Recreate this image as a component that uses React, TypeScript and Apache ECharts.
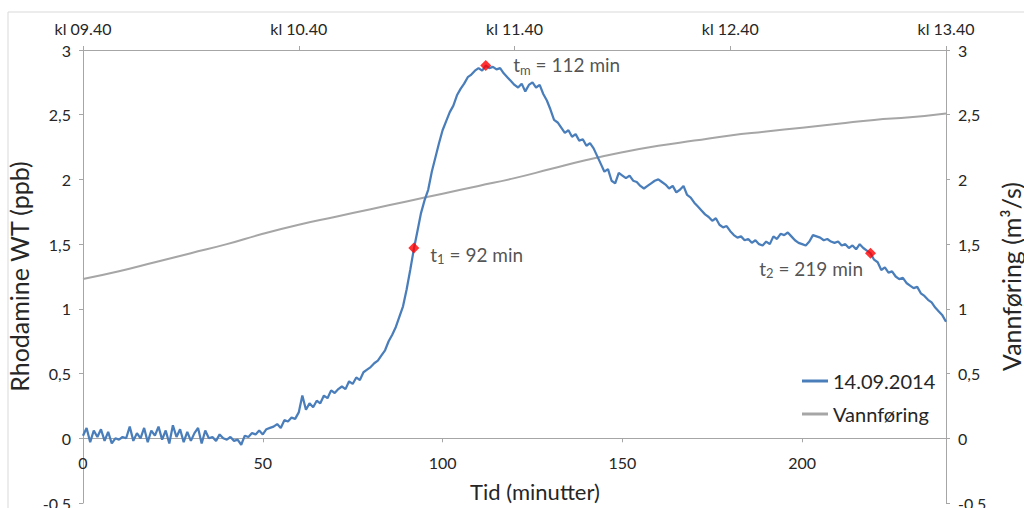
import React, { useEffect, useRef } from "react";
import * as echarts from "echarts";

// Rhodamine WT (ppb), one reading per minute from 0 to 240 min
const rhodamine: number[] = [
  0.02, 0.08, -0.03, 0.06, 0.01, 0.07, -0.02, 0.05, -0.04, 0.0,
  -0.01, 0.01, 0.0, 0.09, -0.02, 0.04, 0.0, 0.08, -0.03, 0.06,
  0.02, 0.09, -0.01, 0.06, -0.04, 0.1, 0.01, 0.07, -0.03, 0.05,
  -0.02, 0.04, 0.08, -0.04, 0.06, 0.0, 0.01, -0.02, 0.03, 0.0,
  -0.01, 0.01, -0.02, -0.01, -0.05, 0.02, 0.01, 0.04, 0.03, 0.06,
  0.03, 0.07, 0.08, 0.09, 0.11, 0.08, 0.14, 0.13, 0.16, 0.15,
  0.2, 0.33, 0.22, 0.27, 0.24, 0.29, 0.27, 0.33, 0.31, 0.37,
  0.35, 0.38, 0.4, 0.38, 0.44, 0.42, 0.47, 0.45, 0.51, 0.53,
  0.55, 0.58, 0.6, 0.64, 0.68, 0.75, 0.8, 0.86, 0.94, 1.02,
  1.15, 1.3, 1.46, 1.6, 1.74, 1.84, 1.92, 2.06, 2.17, 2.28,
  2.38, 2.45, 2.52, 2.57, 2.65, 2.7, 2.74, 2.79, 2.81, 2.84,
  2.86, 2.84, 2.88, 2.86, 2.87, 2.85, 2.86, 2.82, 2.79, 2.76,
  2.73, 2.71, 2.74, 2.68, 2.73, 2.75, 2.71, 2.73, 2.66, 2.61,
  2.54, 2.46, 2.44, 2.4, 2.36, 2.38, 2.33, 2.35, 2.3, 2.31,
  2.26, 2.28, 2.24, 2.18, 2.12, 2.06, 2.08, 1.99, 1.97, 2.05,
  2.03, 2.01, 2.03, 1.99, 1.98, 1.95, 1.93, 1.95, 1.97, 1.99,
  2.0, 1.98, 1.96, 1.93, 1.95, 1.9, 1.92, 1.95, 1.88, 1.86,
  1.82, 1.79, 1.76, 1.73, 1.71, 1.68, 1.7, 1.65, 1.63, 1.64,
  1.6, 1.57, 1.55, 1.56, 1.53, 1.54, 1.51, 1.53, 1.5, 1.49,
  1.52, 1.5, 1.56, 1.54, 1.58, 1.57, 1.59, 1.56, 1.53, 1.51,
  1.5, 1.49, 1.52, 1.57, 1.56, 1.55, 1.53, 1.54, 1.52, 1.51,
  1.52, 1.49, 1.5, 1.47, 1.49, 1.46, 1.5, 1.47, 1.45, 1.43,
  1.38, 1.36, 1.3, 1.32, 1.28, 1.29, 1.25, 1.23, 1.24, 1.2,
  1.18, 1.16, 1.17, 1.12, 1.1, 1.07, 1.05, 1.01, 0.98, 0.95,
  0.9,
];

// Vannføring (m³/s)
const flowTimes: number[] = [0, 10, 20, 30, 40, 50, 60, 70, 80, 90, 100, 110, 120, 130, 140, 150, 160, 170, 180, 190, 200, 210, 220, 230, 240];
const flowValues: number[] = [1.23, 1.29, 1.36, 1.43, 1.5, 1.58, 1.65, 1.71, 1.77, 1.83, 1.89, 1.95, 2.01, 2.08, 2.15, 2.21, 2.26, 2.3, 2.34, 2.37, 2.4, 2.43, 2.46, 2.48, 2.51];

// Marked times
const markTimes: number[] = [92, 112, 219];
const markValues: number[] = [1.47, 2.88, 1.43];
const markSubs: string[] = ["1", "m", "2"];

const topTickLabels: string[] = ["kl 09.40", "kl 10.40", "kl 11.40", "kl 12.40", "kl 13.40"];

const seriesNames = ["14.09.2014", "Vannføring"];

const Y_MIN = -0.5;
const Y_MAX = 3;

const FONT = "Lato, 'Open Sans', sans-serif";
const AXIS_COLOR = "#a6a6a6";
const TEXT_COLOR = "#262626";
const GRID_TOP = 50;
const GRID_HEIGHT = 453;

const fmtY = (v: number) => (v < 0 ? String(v) : String(v).replace(".", ","));

export default function App() {
  const ref = useRef<HTMLDivElement>(null);
  useEffect(() => {
    if (!ref.current) return;
    const chart = echarts.init(ref.current, undefined, { renderer: "svg" });
    const blueData = rhodamine.map((v, i) => [i, v]);
    const flowData = flowTimes.map((t, i) => [t, flowValues[i]]);
    // distance from the grid's bottom edge to the y = 0 line
    const zeroOffset = (GRID_HEIGHT * (0 - Y_MIN)) / (Y_MAX - Y_MIN);
    const markData = markTimes.map((t, i) => {
      const pos = i === 2 ? "left" : "right";
      const offset = i === 0 ? [0, 6] : i === 1 ? [0, -1] : [0, 15];
      const distance = i === 0 ? 11 : i === 1 ? 22 : 2;
      return {
        value: [t, markValues[i]],
        label: {
          show: true,
          position: pos,
          distance,
          offset,
          formatter: `{t|t}{s|${markSubs[i]}}{t| = ${t} min}`,
        },
      };
    });
    const yAxisCommon = {
      type: "value",
      min: Y_MIN,
      max: Y_MAX,
      interval: 0.5,
      splitLine: { show: false },
      axisLine: { show: true, onZero: false, lineStyle: { color: AXIS_COLOR, width: 1 } },
      axisTick: { show: true, length: 4, lineStyle: { color: AXIS_COLOR } },
      axisLabel: { formatter: fmtY, fontSize: 16, color: TEXT_COLOR, fontFamily: FONT, margin: 12 },
      nameLocation: "middle",
      nameRotate: 90,
      nameTextStyle: { fontSize: 25, color: TEXT_COLOR, fontFamily: FONT },
    };
    chart.setOption({
      animation: false,
      textStyle: { fontFamily: FONT },
      grid: { left: 83, right: 78, top: GRID_TOP, height: GRID_HEIGHT, containLabel: false, outerBoundsMode: "none" },
      graphic: [
        {
          type: "rect",
          shape: { x: 8, y: 12, width: 1030, height: 520 },
          style: { fill: "none", stroke: "#d9d9d9", lineWidth: 1 },
          silent: true,
        },
        {
          type: "text",
          x: 535,
          y: 491,
          style: {
            text: "Tid (minutter)",
            fontSize: 22,
            fontFamily: FONT,
            fill: TEXT_COLOR,
            align: "center",
            verticalAlign: "middle",
          },
        },
      ],
      legend: {
        data: seriesNames,
        orient: "vertical",
        left: 797,
        top: 366,
        itemWidth: 26,
        itemHeight: 3,
        itemGap: 13,
        icon: "rect",
        textStyle: { fontSize: 20, color: TEXT_COLOR, fontFamily: FONT },
      },
      xAxis: [
        {
          type: "value",
          min: 0,
          max: 240,
          interval: 50,
          position: "bottom",
          offset: -zeroOffset,
          splitLine: { show: false },
          axisLine: { show: true, onZero: false, lineStyle: { color: AXIS_COLOR } },
          axisTick: { show: true, length: 4, lineStyle: { color: AXIS_COLOR } },
          axisLabel: {
            showMaxLabel: false,
            fontSize: 16,
            color: TEXT_COLOR,
            fontFamily: FONT,
            margin: 16,
            formatter: (v: number) => (v > 200 ? "" : String(v)),
          },
        },
        {
          type: "value",
          min: 0,
          max: 240,
          interval: 60,
          position: "top",
          splitLine: { show: false },
          axisLine: { show: true, onZero: false, lineStyle: { color: AXIS_COLOR } },
          axisTick: { show: true, length: 4, lineStyle: { color: AXIS_COLOR } },
          axisLabel: {
            fontSize: 16,
            color: TEXT_COLOR,
            fontFamily: FONT,
            margin: 14,
            formatter: (v: number) => topTickLabels[Math.round(v / 60)] ?? "",
          },
        },
      ],
      yAxis: [
        { ...yAxisCommon, position: "left", name: "Rhodamine WT (ppb)", nameGap: 40 },
        { ...yAxisCommon, position: "right", name: "Vannføring (m³/s)", nameGap: 52 },
      ],
      series: [
        {
          name: seriesNames[0],
          type: "line",
          data: blueData,
          xAxisIndex: 0,
          yAxisIndex: 0,
          showSymbol: false,
          symbol: "none",
          lineStyle: { color: "#4a7ebb", width: 2.25 },
          itemStyle: { color: "#4a7ebb" },
          z: 3,
        },
        {
          name: seriesNames[1],
          type: "line",
          data: flowData,
          xAxisIndex: 0,
          yAxisIndex: 1,
          smooth: true,
          showSymbol: false,
          symbol: "none",
          lineStyle: { color: "#a6a6a6", width: 2 },
          itemStyle: { color: "#a6a6a6" },
          z: 2,
        },
        {
          name: "markers",
          type: "scatter",
          data: markData,
          xAxisIndex: 0,
          yAxisIndex: 0,
          symbol: "diamond",
          symbolSize: 11,
          itemStyle: { color: "#ff0000" },
          z: 5,
          label: {
            color: TEXT_COLOR,
            fontFamily: FONT,
            rich: {
              t: { fontSize: 19, color: TEXT_COLOR, fontFamily: FONT },
              s: { fontSize: 13, color: TEXT_COLOR, fontFamily: FONT, verticalAlign: "bottom", padding: [10, 0, 0, 0] },
            },
          },
        },
      ],
    });
    return () => chart.dispose();
  }, []);
  return (
    <div
      ref={ref}
      style={{ position: "fixed", left: 0, top: 0, width: 1024, height: 508, background: "#fff" }}
    />
  );
}
